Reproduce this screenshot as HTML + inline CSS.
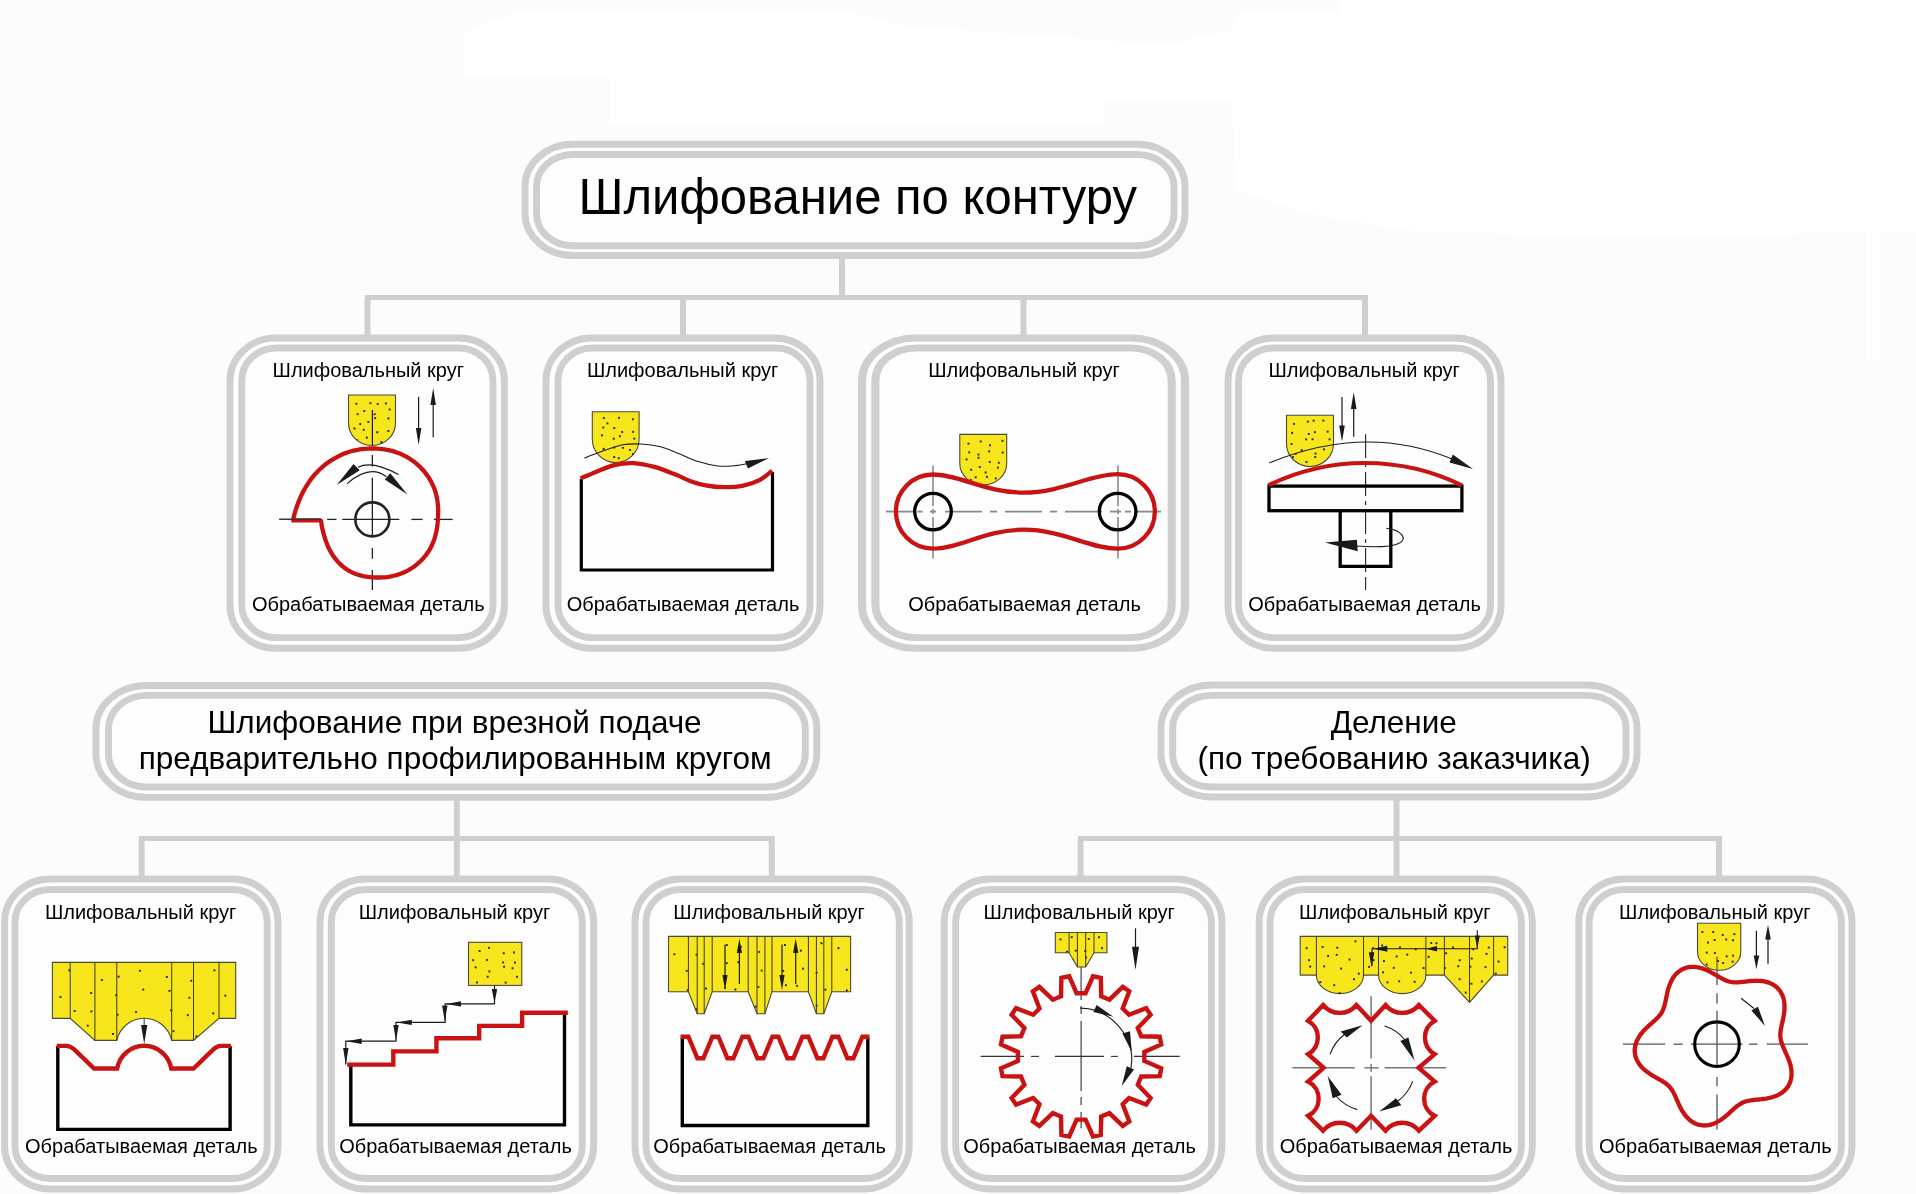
<!DOCTYPE html>
<html><head><meta charset="utf-8"><style>
html,body{margin:0;padding:0;background:#fcfcfc;width:1916px;height:1194px;overflow:hidden}
svg{display:block;will-change:transform}
text{font-family:"Liberation Sans",sans-serif;fill:#000}
</style></head><body>
<svg width="1916" height="1194" viewBox="0 0 1916 1194">
<rect width="1916" height="1194" fill="#fcfcfc"/>
<polygon points="465,32 520,10 840,10 905,26 1165,45 1232,30 1240,10 1340,12 1340,0 1916,0 1916,231 1880,231 1880,360 1866,360 1866,231 1700,237 1420,232 1300,212 1236,190 1232,100 1105,100 1105,125 610,125 610,78 465,78" fill="#ffffff"/>
<line x1="842" y1="255" x2="842" y2="298" stroke="#cfcfcf" stroke-width="6"/>
<line x1="365" y1="297.5" x2="1368" y2="297.5" stroke="#cfcfcf" stroke-width="5"/>
<line x1="367.5" y1="297.5" x2="367.5" y2="338" stroke="#cfcfcf" stroke-width="6"/>
<line x1="683" y1="297.5" x2="683" y2="338" stroke="#cfcfcf" stroke-width="6"/>
<line x1="1023.5" y1="297.5" x2="1023.5" y2="338" stroke="#cfcfcf" stroke-width="6"/>
<line x1="1365" y1="297.5" x2="1365" y2="338" stroke="#cfcfcf" stroke-width="6"/>
<line x1="456.8" y1="797" x2="456.8" y2="839" stroke="#cfcfcf" stroke-width="6"/>
<line x1="139" y1="838.5" x2="774.5" y2="838.5" stroke="#cfcfcf" stroke-width="5"/>
<line x1="141.6" y1="838.5" x2="141.6" y2="879" stroke="#cfcfcf" stroke-width="6"/>
<line x1="456.8" y1="838.5" x2="456.8" y2="879" stroke="#cfcfcf" stroke-width="6"/>
<line x1="771.7" y1="838.5" x2="771.7" y2="879" stroke="#cfcfcf" stroke-width="6"/>
<line x1="1396.5" y1="797" x2="1396.5" y2="839" stroke="#cfcfcf" stroke-width="6"/>
<line x1="1078" y1="838.5" x2="1722" y2="838.5" stroke="#cfcfcf" stroke-width="5"/>
<line x1="1080.5" y1="838.5" x2="1080.5" y2="879" stroke="#cfcfcf" stroke-width="6"/>
<line x1="1396.5" y1="838.5" x2="1396.5" y2="879" stroke="#cfcfcf" stroke-width="6"/>
<line x1="1719" y1="838.5" x2="1719" y2="879" stroke="#cfcfcf" stroke-width="6"/>
<rect x="525" y="144.3" width="660.0" height="111.2" rx="48" ry="42.3" fill="#fdfdfd" stroke="#cfcfcf" stroke-width="6.9"/>
<rect x="536.5" y="154.5" width="637.5" height="91.3" rx="36.5" ry="32.10000000000001" fill="none" stroke="#cfcfcf" stroke-width="6.9"/>
<text x="578.6" y="214.4" font-size="50.6" textLength="558.3" lengthAdjust="spacingAndGlyphs">Шлифование по контуру</text>
<rect x="96" y="685.5" width="720.8" height="111.9" rx="50.8" ry="43" fill="#fdfdfd" stroke="#cfcfcf" stroke-width="6.9"/>
<rect x="108.5" y="695.4" width="696.8" height="91.6" rx="38.3" ry="33.10000000000002" fill="none" stroke="#cfcfcf" stroke-width="6.9"/>
<text x="207.48" y="732.7" font-size="31.5" text-anchor="start">Шлифование при врезной подаче</text>
<text x="138.795" y="768.9" font-size="31.5" text-anchor="start">предварительно профилированным кругом</text>
<rect x="1161" y="685" width="476.0" height="112.0" rx="50.8" ry="43" fill="#fdfdfd" stroke="#cfcfcf" stroke-width="6.9"/>
<rect x="1172.7" y="695.4" width="453.3" height="91.6" rx="39.09999999999995" ry="32.60000000000002" fill="none" stroke="#cfcfcf" stroke-width="6.9"/>
<text x="1330.6425" y="732.7" font-size="31.5" text-anchor="start">Деление</text>
<text x="1197.4099999999999" y="768.9" font-size="31.5" text-anchor="start">(по требованию заказчика)</text>
<rect x="230" y="338" width="274.4" height="310.3" rx="45.7" ry="42.8" fill="#fdfdfd" stroke="#cfcfcf" stroke-width="6.9"/>
<rect x="241.7" y="348" width="251.3" height="289.6" rx="34.000000000000014" ry="32.8" fill="none" stroke="#cfcfcf" stroke-width="6.9"/>
<text x="272.54999999999995" y="376.8" font-size="20" text-anchor="start">Шлифовальный круг</text>
<text x="251.95000000000002" y="611" font-size="20" text-anchor="start">Обрабатываемая деталь</text>
<rect x="546" y="338" width="274.0" height="310.3" rx="45.7" ry="42.8" fill="#fdfdfd" stroke="#cfcfcf" stroke-width="6.9"/>
<rect x="558" y="348" width="252.0" height="289.6" rx="33.7" ry="32.8" fill="none" stroke="#cfcfcf" stroke-width="6.9"/>
<text x="586.95" y="376.8" font-size="20" text-anchor="start">Шлифовальный круг</text>
<text x="566.65" y="611" font-size="20" text-anchor="start">Обрабатываемая деталь</text>
<g transform="translate(862.1,0) scale(1.1767492711370262,1) translate(-862.1,0)">
<rect x="862.1" y="338" width="274.4" height="310.3" rx="45.7" ry="42.8" fill="#fdfdfd" stroke="#cfcfcf" stroke-width="6.9"/>
<rect x="873.4023227005265" y="348" width="251.8" height="289.6" rx="34.39767729947353" ry="32.8" fill="none" stroke="#cfcfcf" stroke-width="6.9"/>
</g>
<text x="928.25" y="376.8" font-size="20" text-anchor="start">Шлифовальный круг</text>
<text x="908.15" y="611" font-size="20" text-anchor="start">Обрабатываемая деталь</text>
<rect x="1228" y="338" width="273.0" height="310.3" rx="45.7" ry="42.8" fill="#fdfdfd" stroke="#cfcfcf" stroke-width="6.9"/>
<rect x="1238.5" y="348" width="252.0" height="289.6" rx="35.2" ry="32.8" fill="none" stroke="#cfcfcf" stroke-width="6.9"/>
<text x="1268.45" y="376.8" font-size="20" text-anchor="start">Шлифовальный круг</text>
<text x="1248.1499999999999" y="611" font-size="20" text-anchor="start">Обрабатываемая деталь</text>
<rect x="4.6" y="879" width="273.4" height="310.0" rx="45.53345481049563" ry="42.8" fill="#fdfdfd" stroke="#cfcfcf" stroke-width="6.9"/>
<rect x="15" y="889.5" width="252.2" height="289.0" rx="35.13345481049563" ry="32.3" fill="none" stroke="#cfcfcf" stroke-width="6.9"/>
<text x="44.94999999999998" y="918.9" font-size="20" text-anchor="start">Шлифовальный круг</text>
<text x="25.050000000000004" y="1153.2" font-size="20" text-anchor="start">Обрабатываемая деталь</text>
<rect x="320" y="879" width="273.6" height="310.0" rx="45.56676384839651" ry="42.8" fill="#fdfdfd" stroke="#cfcfcf" stroke-width="6.9"/>
<rect x="331.3" y="889.5" width="251.0" height="289.0" rx="34.2667638483965" ry="32.3" fill="none" stroke="#cfcfcf" stroke-width="6.9"/>
<text x="358.75" y="918.9" font-size="20" text-anchor="start">Шлифовальный круг</text>
<text x="339.15000000000003" y="1153.2" font-size="20" text-anchor="start">Обрабатываемая деталь</text>
<rect x="635" y="879" width="274.2" height="310.0" rx="45.66669096209914" ry="42.8" fill="#fdfdfd" stroke="#cfcfcf" stroke-width="6.9"/>
<rect x="646" y="889.5" width="253.3" height="289.0" rx="34.66669096209914" ry="32.3" fill="none" stroke="#cfcfcf" stroke-width="6.9"/>
<text x="673.35" y="918.9" font-size="20" text-anchor="start">Шлифовальный круг</text>
<text x="653.25" y="1153.2" font-size="20" text-anchor="start">Обрабатываемая деталь</text>
<rect x="944.2" y="879" width="277.7" height="310.0" rx="46.24959912536445" ry="42.8" fill="#fdfdfd" stroke="#cfcfcf" stroke-width="6.9"/>
<rect x="955.7" y="889.5" width="255.7" height="289.0" rx="34.74959912536445" ry="32.3" fill="none" stroke="#cfcfcf" stroke-width="6.9"/>
<text x="983.45" y="918.9" font-size="20" text-anchor="start">Шлифовальный круг</text>
<text x="963.2499999999999" y="1153.2" font-size="20" text-anchor="start">Обрабатываемая деталь</text>
<rect x="1259.2" y="879" width="273.1" height="310.0" rx="45.4834912536443" ry="42.8" fill="#fdfdfd" stroke="#cfcfcf" stroke-width="6.9"/>
<rect x="1270" y="889.5" width="251.4" height="289.0" rx="34.68349125364435" ry="32.3" fill="none" stroke="#cfcfcf" stroke-width="6.9"/>
<text x="1299.05" y="918.9" font-size="20" text-anchor="start">Шлифовальный круг</text>
<text x="1279.6499999999999" y="1153.2" font-size="20" text-anchor="start">Обрабатываемая деталь</text>
<rect x="1578.8" y="879" width="273.2" height="310.0" rx="45.50014577259477" ry="42.8" fill="#fdfdfd" stroke="#cfcfcf" stroke-width="6.9"/>
<rect x="1589.2" y="889.5" width="252.2" height="289.0" rx="35.10014577259468" ry="32.3" fill="none" stroke="#cfcfcf" stroke-width="6.9"/>
<text x="1619.05" y="918.9" font-size="20" text-anchor="start">Шлифовальный круг</text>
<text x="1599.05" y="1153.2" font-size="20" text-anchor="start">Обрабатываемая деталь</text>
<clipPath id="w1"><path d="M348.5,395 H395.5 V423 A23.50,22.50 0 0 1 348.5,423 Z"/></clipPath>
<path d="M348.5,395 H395.5 V423 A23.50,22.50 0 0 1 348.5,423 Z" fill="#f8e61c" stroke="#4a4a3a" stroke-width="1.1"/>
<g clip-path="url(#w1)"><rect x="355.4" y="402.8" width="1.9" height="1.9" fill="#222"/><rect x="369.4" y="402.2" width="1.9" height="1.9" fill="#222"/><rect x="376.8" y="403.0" width="1.9" height="1.9" fill="#222"/><rect x="384.9" y="402.5" width="1.9" height="1.9" fill="#222"/><rect x="356.7" y="413.2" width="1.9" height="1.9" fill="#222"/><rect x="363.3" y="410.1" width="1.9" height="1.9" fill="#222"/><rect x="373.7" y="413.3" width="1.9" height="1.9" fill="#222"/><rect x="388.7" y="408.5" width="1.9" height="1.9" fill="#222"/><rect x="359.3" y="423.1" width="1.9" height="1.9" fill="#222"/><rect x="367.4" y="421.0" width="1.9" height="1.9" fill="#222"/><rect x="374.2" y="417.2" width="1.9" height="1.9" fill="#222"/><rect x="387.5" y="417.5" width="1.9" height="1.9" fill="#222"/><rect x="353.5" y="427.5" width="1.9" height="1.9" fill="#222"/><rect x="362.8" y="428.9" width="1.9" height="1.9" fill="#222"/><rect x="376.3" y="431.3" width="1.9" height="1.9" fill="#222"/><rect x="387.4" y="430.0" width="1.9" height="1.9" fill="#222"/><rect x="355.7" y="439.1" width="1.9" height="1.9" fill="#222"/><rect x="365.9" y="436.7" width="1.9" height="1.9" fill="#222"/><rect x="380.4" y="441.1" width="1.9" height="1.9" fill="#222"/><rect x="389.8" y="439.3" width="1.9" height="1.9" fill="#222"/></g>
<line x1="372.4" y1="410" x2="372.4" y2="445" stroke="#1a1a1a" stroke-width="1.2"/>
<line x1="418.6" y1="396.7" x2="418.6" y2="432" stroke="#1a1a1a" stroke-width="1.2"/>
<polygon points="418.6,445.0 415.9,428.0 421.4,428.0" fill="#1a1a1a"/>
<line x1="433.2" y1="401" x2="433.2" y2="437.2" stroke="#1a1a1a" stroke-width="1.2"/>
<polygon points="433.2,388.0 435.9,405.0 430.4,405.0" fill="#1a1a1a"/>
<line x1="279.4" y1="519.4" x2="321.5" y2="519.4" stroke="#222" stroke-width="1.3"/>
<line x1="327.1" y1="519.4" x2="336.5" y2="519.4" stroke="#222" stroke-width="1.3"/>
<line x1="342.2" y1="519.4" x2="399.4" y2="519.4" stroke="#222" stroke-width="1.3"/>
<line x1="411.3" y1="519.4" x2="422.6" y2="519.4" stroke="#222" stroke-width="1.3"/>
<line x1="433.9" y1="519.4" x2="452.7" y2="519.4" stroke="#222" stroke-width="1.3"/>
<line x1="372.35" y1="455.1" x2="372.35" y2="466.4" stroke="#222" stroke-width="1.3"/>
<line x1="372.35" y1="477.7" x2="372.35" y2="535.5" stroke="#222" stroke-width="1.3"/>
<line x1="372.35" y1="548" x2="372.35" y2="558.7" stroke="#222" stroke-width="1.3"/>
<line x1="372.35" y1="570" x2="372.35" y2="590" stroke="#222" stroke-width="1.3"/>
<circle cx="372.35" cy="519.4" r="17" fill="none" stroke="#222" stroke-width="2.6"/>
<path d="M293.2,519.4 L293.8,516.7 L294.5,514.0 L295.3,511.3 L296.1,508.7 L297.0,506.1 L297.9,503.6 L298.9,501.1 L299.9,498.6 L301.0,496.2 L302.1,493.8 L303.3,491.5 L304.5,489.2 L305.8,487.0 L307.2,484.8 L308.6,482.6 L310.1,480.5 L311.6,478.4 L313.2,476.4 L314.8,474.5 L316.6,472.6 L318.3,470.7 L320.1,469.0 L322.0,467.3 L323.9,465.6 L325.9,464.1 L328.0,462.6 L330.0,461.1 L332.1,459.8 L334.3,458.5 L336.5,457.3 L338.7,456.1 L341.0,455.0 L343.2,454.0 L345.6,453.1 L347.9,452.3 L350.3,451.5 L352.7,450.8 L355.1,450.3 L357.6,449.8 L360.0,449.4 L362.5,449.0 L364.9,448.8 L367.4,448.6 L369.9,448.5 L372.4,448.5 L374.8,448.5 L377.3,448.6 L379.8,448.8 L382.2,449.1 L384.7,449.4 L387.1,449.8 L389.6,450.3 L392.0,450.9 L394.4,451.6 L396.7,452.4 L399.1,453.3 L401.4,454.2 L403.6,455.3 L405.8,456.4 L408.0,457.7 L410.1,459.0 L412.2,460.4 L414.2,461.9 L416.1,463.4 L418.0,465.0 L419.8,466.7 L421.5,468.5 L423.2,470.3 L424.8,472.2 L426.3,474.1 L427.8,476.1 L429.1,478.2 L430.4,480.3 L431.5,482.4 L432.6,484.6 L433.6,486.8 L434.5,489.1 L435.3,491.4 L435.9,493.7 L436.5,496.0 L437.0,498.4 L437.4,500.7 L437.7,503.1 L437.9,505.5 L438.1,507.8 L438.2,510.2 L438.2,512.5 L438.1,514.8 L438.0,517.1 L437.9,519.4 L437.7,521.7 L437.5,524.0 L437.2,526.2 L436.9,528.5 L436.5,530.7 L436.0,532.9 L435.5,535.1 L434.9,537.3 L434.2,539.5 L433.4,541.6 L432.5,543.7 L431.6,545.8 L430.6,547.8 L429.5,549.8 L428.3,551.7 L427.0,553.5 L425.7,555.4 L424.2,557.1 L422.8,558.8 L421.2,560.4 L419.6,562.0 L418.0,563.4 L416.3,564.9 L414.5,566.2 L412.7,567.5 L410.8,568.7 L409.0,569.8 L407.0,570.8 L405.1,571.8 L403.1,572.7 L401.1,573.5 L399.1,574.2 L397.1,574.9 L395.0,575.5 L392.9,576.0 L390.9,576.4 L388.8,576.8 L386.7,577.1 L384.7,577.3 L382.6,577.4 L380.5,577.5 L378.5,577.5 L376.4,577.5 L374.4,577.4 L372.4,577.3 L370.3,577.1 L368.3,576.9 L366.3,576.6 L364.4,576.3 L362.4,575.9 L360.4,575.4 L358.5,574.9 L356.6,574.3 L354.7,573.6 L352.9,572.8 L351.1,571.9 L349.4,571.0 L347.7,570.0 L346.0,568.9 L344.4,567.8 L342.9,566.5 L341.4,565.3 L340.0,563.9 L338.6,562.6 L337.3,561.2 L336.1,559.7 L334.9,558.2 L333.7,556.7 L332.7,555.1 L331.7,553.5 L330.7,551.9 L329.8,550.3 L329.0,548.6 L328.2,547.0 L327.5,545.3 L326.8,543.6 L326.2,541.9 L325.6,540.2 L325.0,538.5 L324.5,536.8 L324.0,535.1 L323.5,533.4 L323.1,531.7 L322.7,530.0 L322.3,528.2 L321.9,526.5 L321.6,524.7 L321.3,523.0 L321.0,521.2 L320.8,519.4 L320.8,520.4 L291.3,520.4" fill="none" stroke="#c91313" stroke-width="4.3" stroke-linejoin="miter"/>
<line x1="279.4" y1="519.4" x2="321.5" y2="519.4" stroke="#333" stroke-width="1.2"/>
<path d="M358,467.2 Q372.1,460 398.5,474.5" fill="none" stroke="#1a1a1a" stroke-width="1.2"/>
<polygon points="336.7,484.9 353.5,464.1 359.7,470.3" fill="#1a1a1a"/>
<path d="M347.1,483.6 Q370,464 386.3,476.7" fill="none" stroke="#1a1a1a" stroke-width="1.2"/>
<polygon points="407.4,494.5 390.3,473.2 384.8,479.6" fill="#1a1a1a"/>
<clipPath id="w2"><path d="M592.3,411.8 H639.1 V439 A23.40,23.60 0 0 1 592.3,439 Z"/></clipPath>
<path d="M592.3,411.8 H639.1 V439 A23.40,23.60 0 0 1 592.3,439 Z" fill="#f8e61c" stroke="#4a4a3a" stroke-width="1.1"/>
<g clip-path="url(#w2)"><rect x="602.9" y="417.0" width="1.9" height="1.9" fill="#222"/><rect x="606.5" y="422.4" width="1.9" height="1.9" fill="#222"/><rect x="618.1" y="416.9" width="1.9" height="1.9" fill="#222"/><rect x="632.0" y="418.3" width="1.9" height="1.9" fill="#222"/><rect x="602.4" y="426.6" width="1.9" height="1.9" fill="#222"/><rect x="613.3" y="427.1" width="1.9" height="1.9" fill="#222"/><rect x="621.2" y="431.0" width="1.9" height="1.9" fill="#222"/><rect x="632.2" y="430.9" width="1.9" height="1.9" fill="#222"/><rect x="601.0" y="434.4" width="1.9" height="1.9" fill="#222"/><rect x="612.8" y="437.8" width="1.9" height="1.9" fill="#222"/><rect x="619.0" y="435.3" width="1.9" height="1.9" fill="#222"/><rect x="633.4" y="437.7" width="1.9" height="1.9" fill="#222"/><rect x="602.7" y="447.9" width="1.9" height="1.9" fill="#222"/><rect x="613.3" y="446.6" width="1.9" height="1.9" fill="#222"/><rect x="621.9" y="446.9" width="1.9" height="1.9" fill="#222"/><rect x="629.1" y="449.0" width="1.9" height="1.9" fill="#222"/><rect x="598.2" y="456.9" width="1.9" height="1.9" fill="#222"/><rect x="613.3" y="456.1" width="1.9" height="1.9" fill="#222"/><rect x="617.8" y="457.2" width="1.9" height="1.9" fill="#222"/><rect x="632.1" y="453.1" width="1.9" height="1.9" fill="#222"/></g>
<path d="M581.3,479 V570 H772.5 V472" fill="none" stroke="#000" stroke-width="3.2"/>
<path d="M580.6,478.4 C583.4,477.2 591.3,473.7 597.1,471.4 C602.9,469.1 609.2,466.2 615.2,464.8 C621.2,463.4 626.8,462.8 633.3,463.1 C639.8,463.5 647.3,465.0 654.4,466.9 C661.5,468.8 669.6,472.2 675.6,474.6 C681.6,477.0 685.6,479.4 690.6,481.2 C695.6,483.0 700.2,484.4 705.7,485.4 C711.2,486.4 717.5,487.2 723.8,487.2 C730.1,487.2 737.4,486.8 743.4,485.6 C749.4,484.4 755.2,482.4 760.0,479.9 C764.8,477.4 770.1,472.2 772.1,470.6" fill="none" stroke="#c91313" stroke-width="4.3"/>
<path d="M584.3,458.0 C586.9,457.0 593.8,454.2 600.2,452.0 C606.6,449.8 616.0,446.1 622.8,444.8 C629.6,443.5 634.6,443.7 640.9,444.0 C647.2,444.3 654.2,445.1 660.5,446.7 C666.8,448.3 672.3,451.0 678.6,453.5 C684.9,456.0 691.7,459.5 698.2,461.6 C704.7,463.7 711.5,465.3 717.8,466.0 C724.1,466.7 730.9,466.0 735.9,465.6 C740.9,465.2 746.0,463.9 748.0,463.6" fill="none" stroke="#1a1a1a" stroke-width="1.1"/>
<polygon points="769,458 744.9,461.1 747.9,468.6" fill="#1a1a1a"/>
<clipPath id="w3"><path d="M959.8,434.4 H1006.7 V463.5 A23.45,21.30 0 0 1 959.8,463.5 Z"/></clipPath>
<path d="M959.8,434.4 H1006.7 V463.5 A23.45,21.30 0 0 1 959.8,463.5 Z" fill="#f8e61c" stroke="#4a4a3a" stroke-width="1.1"/>
<g clip-path="url(#w3)"><rect x="967.6" y="442.7" width="1.9" height="1.9" fill="#222"/><rect x="979.8" y="440.5" width="1.9" height="1.9" fill="#222"/><rect x="989.1" y="444.3" width="1.9" height="1.9" fill="#222"/><rect x="1001.5" y="439.9" width="1.9" height="1.9" fill="#222"/><rect x="968.2" y="451.4" width="1.9" height="1.9" fill="#222"/><rect x="977.5" y="453.6" width="1.9" height="1.9" fill="#222"/><rect x="988.2" y="450.4" width="1.9" height="1.9" fill="#222"/><rect x="1001.7" y="451.6" width="1.9" height="1.9" fill="#222"/><rect x="965.6" y="458.4" width="1.9" height="1.9" fill="#222"/><rect x="977.5" y="456.8" width="1.9" height="1.9" fill="#222"/><rect x="988.8" y="461.1" width="1.9" height="1.9" fill="#222"/><rect x="997.9" y="461.8" width="1.9" height="1.9" fill="#222"/><rect x="970.2" y="468.8" width="1.9" height="1.9" fill="#222"/><rect x="978.8" y="466.1" width="1.9" height="1.9" fill="#222"/><rect x="984.7" y="471.5" width="1.9" height="1.9" fill="#222"/><rect x="996.9" y="466.7" width="1.9" height="1.9" fill="#222"/><rect x="969.9" y="478.9" width="1.9" height="1.9" fill="#222"/><rect x="974.7" y="476.3" width="1.9" height="1.9" fill="#222"/><rect x="986.1" y="475.9" width="1.9" height="1.9" fill="#222"/><rect x="994.8" y="477.5" width="1.9" height="1.9" fill="#222"/></g>
<line x1="886" y1="511.6" x2="913" y2="511.6" stroke="#8a8a8a" stroke-width="1.8"/>
<line x1="917.5" y1="511.6" x2="922.5" y2="511.6" stroke="#8a8a8a" stroke-width="1.8"/>
<line x1="930" y1="511.6" x2="936" y2="511.6" stroke="#8a8a8a" stroke-width="1.8"/>
<line x1="945" y1="511.6" x2="982" y2="511.6" stroke="#8a8a8a" stroke-width="1.8"/>
<line x1="990" y1="511.6" x2="997" y2="511.6" stroke="#8a8a8a" stroke-width="1.8"/>
<line x1="1005" y1="511.6" x2="1042" y2="511.6" stroke="#8a8a8a" stroke-width="1.8"/>
<line x1="1050" y1="511.6" x2="1057" y2="511.6" stroke="#8a8a8a" stroke-width="1.8"/>
<line x1="1065" y1="511.6" x2="1102" y2="511.6" stroke="#8a8a8a" stroke-width="1.8"/>
<line x1="1110" y1="511.6" x2="1115" y2="511.6" stroke="#8a8a8a" stroke-width="1.8"/>
<line x1="1115" y1="511.6" x2="1121" y2="511.6" stroke="#8a8a8a" stroke-width="1.8"/>
<line x1="1125" y1="511.6" x2="1131" y2="511.6" stroke="#8a8a8a" stroke-width="1.8"/>
<line x1="1137" y1="511.6" x2="1161" y2="511.6" stroke="#8a8a8a" stroke-width="1.8"/>
<line x1="933" y1="465.4" x2="933" y2="506" stroke="#8a8a8a" stroke-width="1.6"/>
<line x1="933" y1="509" x2="933" y2="514" stroke="#8a8a8a" stroke-width="1.6"/>
<line x1="933" y1="517" x2="933" y2="558.5" stroke="#8a8a8a" stroke-width="1.6"/>
<line x1="1118" y1="465.4" x2="1118" y2="506" stroke="#8a8a8a" stroke-width="1.6"/>
<line x1="1118" y1="509" x2="1118" y2="514" stroke="#8a8a8a" stroke-width="1.6"/>
<line x1="1118" y1="517" x2="1118" y2="558.5" stroke="#8a8a8a" stroke-width="1.6"/>
<circle cx="933" cy="511.6" r="18.3" fill="none" stroke="#000" stroke-width="3.3"/>
<circle cx="1117.6" cy="511.6" r="18.3" fill="none" stroke="#000" stroke-width="3.3"/>
<path d="M933,474.5 C960,474.5 985,492.6 1023.8,492.6 C1062,492.6 1090,474.2 1117.6,474.2 A37.2,37.2 0 0 1 1117.6,548.7 C1090,548.7 1062,529.7 1023.8,529.7 C985,529.7 960,548.7 933,548.7 A37.1,37.1 0 0 1 933,474.5 Z" fill="none" stroke="#c91313" stroke-width="4.3"/>
<clipPath id="w4"><path d="M1286.5,415.2 H1333.5 V443.5 A23.50,23.00 0 0 1 1286.5,443.5 Z"/></clipPath>
<path d="M1286.5,415.2 H1333.5 V443.5 A23.50,23.00 0 0 1 1286.5,443.5 Z" fill="#f8e61c" stroke="#4a4a3a" stroke-width="1.1"/>
<g clip-path="url(#w4)"><rect x="1293.1" y="423.0" width="1.9" height="1.9" fill="#222"/><rect x="1306.9" y="420.7" width="1.9" height="1.9" fill="#222"/><rect x="1312.7" y="419.7" width="1.9" height="1.9" fill="#222"/><rect x="1322.4" y="419.6" width="1.9" height="1.9" fill="#222"/><rect x="1291.2" y="431.9" width="1.9" height="1.9" fill="#222"/><rect x="1307.8" y="433.0" width="1.9" height="1.9" fill="#222"/><rect x="1313.9" y="431.2" width="1.9" height="1.9" fill="#222"/><rect x="1326.7" y="430.7" width="1.9" height="1.9" fill="#222"/><rect x="1290.6" y="443.0" width="1.9" height="1.9" fill="#222"/><rect x="1305.1" y="438.4" width="1.9" height="1.9" fill="#222"/><rect x="1311.6" y="438.3" width="1.9" height="1.9" fill="#222"/><rect x="1328.6" y="438.4" width="1.9" height="1.9" fill="#222"/><rect x="1294.7" y="452.9" width="1.9" height="1.9" fill="#222"/><rect x="1300.8" y="449.2" width="1.9" height="1.9" fill="#222"/><rect x="1314.6" y="452.6" width="1.9" height="1.9" fill="#222"/><rect x="1323.0" y="448.4" width="1.9" height="1.9" fill="#222"/><rect x="1291.9" y="456.1" width="1.9" height="1.9" fill="#222"/><rect x="1305.5" y="461.0" width="1.9" height="1.9" fill="#222"/><rect x="1314.3" y="456.0" width="1.9" height="1.9" fill="#222"/><rect x="1326.8" y="460.5" width="1.9" height="1.9" fill="#222"/></g>
<line x1="1365.6" y1="434.3" x2="1365.6" y2="458" stroke="#222" stroke-width="1.1"/>
<line x1="1365.6" y1="463" x2="1365.6" y2="467" stroke="#222" stroke-width="1.1"/>
<line x1="1365.6" y1="472" x2="1365.6" y2="496" stroke="#222" stroke-width="1.1"/>
<line x1="1365.6" y1="501" x2="1365.6" y2="505" stroke="#222" stroke-width="1.1"/>
<line x1="1365.6" y1="510" x2="1365.6" y2="534" stroke="#222" stroke-width="1.1"/>
<line x1="1365.6" y1="539" x2="1365.6" y2="543" stroke="#222" stroke-width="1.1"/>
<line x1="1365.6" y1="548" x2="1365.6" y2="572" stroke="#222" stroke-width="1.1"/>
<line x1="1365.6" y1="577" x2="1365.6" y2="590" stroke="#222" stroke-width="1.1"/>
<rect x="1269" y="486.1" width="192.9" height="24.6" fill="none" stroke="#000" stroke-width="3.3"/>
<path d="M1340.2,510.7 V566.4 H1390.8 V510.7" fill="none" stroke="#000" stroke-width="3.3"/>
<path d="M1268.5,485.3 A220.8,220.8 0 0 1 1461.9,485.3" fill="none" stroke="#c91313" stroke-width="4.2"/>
<path d="M1269,463 Q1365.6,423 1452,459" fill="none" stroke="#1a1a1a" stroke-width="1.1"/>
<polygon points="1473,469 1449.5,462.6 1452.8,454.6" fill="#1a1a1a"/>
<line x1="1342" y1="397" x2="1342" y2="430" stroke="#1a1a1a" stroke-width="1.2"/>
<polygon points="1342.0,441.5 1339.2,425.6 1344.8,425.6" fill="#1a1a1a"/>
<line x1="1353.7" y1="404" x2="1353.7" y2="436.7" stroke="#1a1a1a" stroke-width="1.2"/>
<polygon points="1353.7,392.2 1356.5,408.9 1350.9,408.9" fill="#1a1a1a"/>
<path d="M1386.3,528.2 C1402,530 1410,540 1396,544.5 C1385,548 1370,547 1356,546" fill="none" stroke="#1a1a1a" stroke-width="1.1"/>
<polygon points="1325,542.6 1356.9,539.8 1357.7,551.3" fill="#1a1a1a"/>
<clipPath id="wb1"><path d="M52.4,962.4 H235.7 V1018.4 H219 L193.5,1040.4 H171.7 A28.1,28.1 0 0 0 116.8,1040.4 H94.9 L70.2,1018.4 H52.4 Z"/></clipPath>
<path d="M52.4,962.4 H235.7 V1018.4 H219 L193.5,1040.4 H171.7 A28.1,28.1 0 0 0 116.8,1040.4 H94.9 L70.2,1018.4 H52.4 Z" fill="#f8e61c" stroke="#4a4a3a" stroke-width="1.1"/>
<g clip-path="url(#wb1)"><rect x="68.3" y="969.4" width="1.9" height="1.9" fill="#222"/><rect x="100.9" y="979.1" width="1.9" height="1.9" fill="#222"/><rect x="117.7" y="975.7" width="1.9" height="1.9" fill="#222"/><rect x="138.9" y="969.8" width="1.9" height="1.9" fill="#222"/><rect x="165.9" y="976.1" width="1.9" height="1.9" fill="#222"/><rect x="190.3" y="979.8" width="1.9" height="1.9" fill="#222"/><rect x="213.4" y="969.4" width="1.9" height="1.9" fill="#222"/><rect x="59.5" y="996.1" width="1.9" height="1.9" fill="#222"/><rect x="90.2" y="992.1" width="1.9" height="1.9" fill="#222"/><rect x="115.2" y="994.3" width="1.9" height="1.9" fill="#222"/><rect x="142.3" y="988.6" width="1.9" height="1.9" fill="#222"/><rect x="168.5" y="989.9" width="1.9" height="1.9" fill="#222"/><rect x="188.4" y="996.8" width="1.9" height="1.9" fill="#222"/><rect x="224.4" y="994.7" width="1.9" height="1.9" fill="#222"/><rect x="73.7" y="1010.1" width="1.9" height="1.9" fill="#222"/><rect x="90.4" y="1010.5" width="1.9" height="1.9" fill="#222"/><rect x="116.6" y="1013.7" width="1.9" height="1.9" fill="#222"/><rect x="135.1" y="1011.0" width="1.9" height="1.9" fill="#222"/><rect x="170.3" y="1009.4" width="1.9" height="1.9" fill="#222"/><rect x="186.8" y="1014.2" width="1.9" height="1.9" fill="#222"/><rect x="212.3" y="1012.4" width="1.9" height="1.9" fill="#222"/><rect x="60.6" y="1024.3" width="1.9" height="1.9" fill="#222"/><rect x="86.8" y="1024.7" width="1.9" height="1.9" fill="#222"/><rect x="112.0" y="1033.0" width="1.9" height="1.9" fill="#222"/><rect x="148.1" y="1028.7" width="1.9" height="1.9" fill="#222"/><rect x="172.5" y="1030.2" width="1.9" height="1.9" fill="#222"/><rect x="195.4" y="1035.5" width="1.9" height="1.9" fill="#222"/><rect x="217.7" y="1035.4" width="1.9" height="1.9" fill="#222"/></g>
<line x1="70.2" y1="962.4" x2="70.2" y2="1018.4" stroke="#3a3a2a" stroke-width="1"/>
<line x1="94.9" y1="962.4" x2="94.9" y2="1040.4" stroke="#3a3a2a" stroke-width="1"/>
<line x1="116.8" y1="962.4" x2="116.8" y2="1040.4" stroke="#3a3a2a" stroke-width="1"/>
<line x1="171.7" y1="962.4" x2="171.7" y2="1040.4" stroke="#3a3a2a" stroke-width="1"/>
<line x1="193.5" y1="962.4" x2="193.5" y2="1040.4" stroke="#3a3a2a" stroke-width="1"/>
<line x1="219" y1="962.4" x2="219" y2="1018.4" stroke="#3a3a2a" stroke-width="1"/>
<path d="M57.8,1046 V1129.4 H230.1 V1046" fill="none" stroke="#000" stroke-width="3.4"/>
<path d="M56.7,1045.9 H66 Q70,1045.9 74.2,1049.4 L94.1,1068.5 H117.2 A27.4,27.4 0 0 1 171.2,1068.5 H193.5 L213.4,1049.4 Q217,1045.9 221,1045.9 H230.9" fill="none" stroke="#c91313" stroke-width="4.4"/>
<line x1="144.2" y1="1018.4" x2="144.2" y2="1026" stroke="#555" stroke-width="1.2"/>
<polygon points="144.2,1043.9 141.1,1025.0 147.3,1025.0" fill="#1a1a1a"/>
<rect x="468.5" y="942.3" width="53.3" height="43.1" fill="#f8e61c" stroke="#4a4a3a" stroke-width="1.1"/>
<g><rect x="478.6" y="950.0" width="1.9" height="1.9" fill="#222"/><rect x="488.0" y="946.9" width="1.9" height="1.9" fill="#222"/><rect x="502.8" y="952.3" width="1.9" height="1.9" fill="#222"/><rect x="513.1" y="951.5" width="1.9" height="1.9" fill="#222"/><rect x="472.2" y="959.2" width="1.9" height="1.9" fill="#222"/><rect x="486.1" y="959.0" width="1.9" height="1.9" fill="#222"/><rect x="502.2" y="961.5" width="1.9" height="1.9" fill="#222"/><rect x="514.0" y="961.6" width="1.9" height="1.9" fill="#222"/><rect x="474.7" y="966.4" width="1.9" height="1.9" fill="#222"/><rect x="488.4" y="970.5" width="1.9" height="1.9" fill="#222"/><rect x="503.1" y="965.8" width="1.9" height="1.9" fill="#222"/><rect x="511.6" y="967.3" width="1.9" height="1.9" fill="#222"/><rect x="476.0" y="981.5" width="1.9" height="1.9" fill="#222"/><rect x="486.7" y="975.8" width="1.9" height="1.9" fill="#222"/><rect x="504.7" y="981.6" width="1.9" height="1.9" fill="#222"/><rect x="516.1" y="975.8" width="1.9" height="1.9" fill="#222"/></g>
<path d="M350.8,1066 V1124.9 H564.5 V1014" fill="none" stroke="#000" stroke-width="3.4"/>
<path d="M349.4,1064.6 H393.3 V1051.4 H436.4 V1038.2 H479.2 V1025.9 H522.1 V1012.7 H565.7" fill="none" stroke="#c91313" stroke-width="4.4" stroke-linecap="square"/>
<path d="M494.5,985.4 V1003.9 H445.2 V1022.4 H396 V1041.2 H345.8 V1064.6" fill="none" stroke="#1a1a1a" stroke-width="1.2"/>
<polygon points="494.5,1003.0 491.8,988.9 497.2,988.9" fill="#1a1a1a"/>
<polygon points="445.8,1003.9 461.0,1001.2 461.0,1006.6" fill="#1a1a1a"/>
<polygon points="444.8,1021.5 442.1,1005.6 447.5,1005.6" fill="#1a1a1a"/>
<polygon points="396.6,1022.4 411.8,1019.7 411.8,1025.1" fill="#1a1a1a"/>
<polygon points="396.0,1040.8 393.3,1025.0 398.7,1025.0" fill="#1a1a1a"/>
<polygon points="346.4,1041.2 361.7,1038.5 361.7,1043.9" fill="#1a1a1a"/>
<polygon points="345.8,1064.6 343.1,1047.9 348.5,1047.9" fill="#1a1a1a"/>
<clipPath id="wb3"><path d="M668.5,936.4 H850.6 V991.8 H831.8 L823.8,1013.8 H816.4 L808.4,991.8 H772 L764.9,1013.8 H757 L748.2,991.8 H712.2 L704.2,1013.8 H697.2 L688.4,991.8 H668.5 Z"/></clipPath>
<path d="M668.5,936.4 H850.6 V991.8 H831.8 L823.8,1013.8 H816.4 L808.4,991.8 H772 L764.9,1013.8 H757 L748.2,991.8 H712.2 L704.2,1013.8 H697.2 L688.4,991.8 H668.5 Z" fill="#f8e61c" stroke="#4a4a3a" stroke-width="1.1"/>
<g clip-path="url(#wb3)"><rect x="673.4" y="953.3" width="1.9" height="1.9" fill="#222"/><rect x="695.6" y="953.7" width="1.9" height="1.9" fill="#222"/><rect x="725.9" y="944.1" width="1.9" height="1.9" fill="#222"/><rect x="739.8" y="945.9" width="1.9" height="1.9" fill="#222"/><rect x="758.2" y="951.0" width="1.9" height="1.9" fill="#222"/><rect x="784.0" y="944.1" width="1.9" height="1.9" fill="#222"/><rect x="799.9" y="949.7" width="1.9" height="1.9" fill="#222"/><rect x="820.5" y="942.3" width="1.9" height="1.9" fill="#222"/><rect x="837.5" y="947.2" width="1.9" height="1.9" fill="#222"/><rect x="685.8" y="969.9" width="1.9" height="1.9" fill="#222"/><rect x="702.3" y="962.9" width="1.9" height="1.9" fill="#222"/><rect x="725.8" y="962.2" width="1.9" height="1.9" fill="#222"/><rect x="737.4" y="961.3" width="1.9" height="1.9" fill="#222"/><rect x="760.7" y="969.6" width="1.9" height="1.9" fill="#222"/><rect x="782.2" y="970.0" width="1.9" height="1.9" fill="#222"/><rect x="802.1" y="967.7" width="1.9" height="1.9" fill="#222"/><rect x="815.7" y="971.7" width="1.9" height="1.9" fill="#222"/><rect x="845.9" y="968.8" width="1.9" height="1.9" fill="#222"/><rect x="686.9" y="989.2" width="1.9" height="1.9" fill="#222"/><rect x="705.1" y="987.6" width="1.9" height="1.9" fill="#222"/><rect x="724.1" y="986.7" width="1.9" height="1.9" fill="#222"/><rect x="734.4" y="988.6" width="1.9" height="1.9" fill="#222"/><rect x="757.4" y="986.1" width="1.9" height="1.9" fill="#222"/><rect x="784.9" y="984.2" width="1.9" height="1.9" fill="#222"/><rect x="796.1" y="984.9" width="1.9" height="1.9" fill="#222"/><rect x="824.4" y="988.7" width="1.9" height="1.9" fill="#222"/><rect x="845.9" y="989.5" width="1.9" height="1.9" fill="#222"/><rect x="684.2" y="1002.6" width="1.9" height="1.9" fill="#222"/><rect x="695.4" y="1008.4" width="1.9" height="1.9" fill="#222"/><rect x="713.3" y="1008.5" width="1.9" height="1.9" fill="#222"/><rect x="741.5" y="999.3" width="1.9" height="1.9" fill="#222"/><rect x="754.9" y="1005.6" width="1.9" height="1.9" fill="#222"/><rect x="773.4" y="1001.9" width="1.9" height="1.9" fill="#222"/><rect x="793.8" y="998.0" width="1.9" height="1.9" fill="#222"/><rect x="815.7" y="1004.7" width="1.9" height="1.9" fill="#222"/><rect x="832.5" y="1007.3" width="1.9" height="1.9" fill="#222"/></g>
<line x1="688.4" y1="936.4" x2="688.4" y2="991.8" stroke="#3a3a2a" stroke-width="1"/>
<line x1="697.2" y1="936.4" x2="697.2" y2="1013.8" stroke="#3a3a2a" stroke-width="1"/>
<line x1="704.2" y1="936.4" x2="704.2" y2="1013.8" stroke="#3a3a2a" stroke-width="1"/>
<line x1="712.2" y1="936.4" x2="712.2" y2="991.8" stroke="#3a3a2a" stroke-width="1"/>
<line x1="748.2" y1="936.4" x2="748.2" y2="991.8" stroke="#3a3a2a" stroke-width="1"/>
<line x1="757" y1="936.4" x2="757" y2="1013.8" stroke="#3a3a2a" stroke-width="1"/>
<line x1="764.9" y1="936.4" x2="764.9" y2="1013.8" stroke="#3a3a2a" stroke-width="1"/>
<line x1="772" y1="936.4" x2="772" y2="991.8" stroke="#3a3a2a" stroke-width="1"/>
<line x1="808.4" y1="936.4" x2="808.4" y2="991.8" stroke="#3a3a2a" stroke-width="1"/>
<line x1="816.4" y1="936.4" x2="816.4" y2="1013.8" stroke="#3a3a2a" stroke-width="1"/>
<line x1="823.8" y1="936.4" x2="823.8" y2="1013.8" stroke="#3a3a2a" stroke-width="1"/>
<line x1="831.8" y1="936.4" x2="831.8" y2="991.8" stroke="#3a3a2a" stroke-width="1"/>
<line x1="725" y1="944.5" x2="725" y2="978" stroke="#1a1a1a" stroke-width="1.2"/>
<polygon points="725.0,990.1 722.4,975.1 727.6,975.1" fill="#1a1a1a"/>
<line x1="782" y1="944.5" x2="782" y2="978" stroke="#1a1a1a" stroke-width="1.2"/>
<polygon points="782.0,990.1 779.4,975.1 784.6,975.1" fill="#1a1a1a"/>
<line x1="739.4" y1="950" x2="739.4" y2="984" stroke="#1a1a1a" stroke-width="1.2"/>
<polygon points="739.4,938.5 742.0,953.1 736.8,953.1" fill="#1a1a1a"/>
<line x1="795.7" y1="950" x2="795.7" y2="984" stroke="#1a1a1a" stroke-width="1.2"/>
<polygon points="795.7,938.5 798.3,953.1 793.1,953.1" fill="#1a1a1a"/>
<path d="M682.3,1038 V1125.5 H867.8 V1038" fill="none" stroke="#000" stroke-width="3.4"/>
<path d="M680.5,1036.7 L688.4,1036.7 L697.4,1058.3 L703.4,1058.3 L712.4,1036.7 L718.4,1036.7 L727.4,1058.3 L733.4,1058.3 L742.4,1036.7 L748.4,1036.7 L757.4,1058.3 L763.4,1058.3 L772.4,1036.7 L778.4,1036.7 L787.4,1058.3 L793.4,1058.3 L802.4,1036.7 L808.4,1036.7 L817.4,1058.3 L823.4,1058.3 L832.4,1036.7 L838.4,1036.7 L847.4,1058.3 L853.4,1058.3 L862.4,1036.7 L869.5,1036.7" fill="none" stroke="#c91313" stroke-width="4.4"/>
<line x1="980.7" y1="1056.4" x2="1024" y2="1056.4" stroke="#333" stroke-width="1.1"/>
<line x1="1031" y1="1056.4" x2="1039" y2="1056.4" stroke="#333" stroke-width="1.1"/>
<line x1="1055" y1="1056.4" x2="1104" y2="1056.4" stroke="#333" stroke-width="1.1"/>
<line x1="1111" y1="1056.4" x2="1118" y2="1056.4" stroke="#333" stroke-width="1.1"/>
<line x1="1134" y1="1056.4" x2="1179.7" y2="1056.4" stroke="#333" stroke-width="1.1"/>
<line x1="1081.1" y1="967" x2="1081.1" y2="1000" stroke="#333" stroke-width="1.1"/>
<line x1="1081.1" y1="1006" x2="1081.1" y2="1014" stroke="#333" stroke-width="1.1"/>
<line x1="1081.1" y1="1021" x2="1081.1" y2="1091" stroke="#333" stroke-width="1.1"/>
<line x1="1081.1" y1="1097" x2="1081.1" y2="1105" stroke="#333" stroke-width="1.1"/>
<line x1="1081.1" y1="1112" x2="1081.1" y2="1128.3" stroke="#333" stroke-width="1.1"/>
<path d="M1085.6,993.2 L1093.0,976.3 L1100.8,977.8 L1101.2,996.3 L1109.4,999.7 L1122.8,986.9 L1129.3,991.3 L1122.7,1008.5 L1129.0,1014.8 L1146.2,1008.2 L1150.6,1014.7 L1137.8,1028.1 L1141.2,1036.3 L1159.7,1036.7 L1161.2,1044.5 L1144.3,1051.9 L1144.3,1060.9 L1161.2,1068.3 L1159.7,1076.1 L1141.2,1076.5 L1137.8,1084.7 L1150.6,1098.1 L1146.2,1104.6 L1129.0,1098.0 L1122.7,1104.3 L1129.3,1121.5 L1122.8,1125.9 L1109.4,1113.1 L1101.2,1116.5 L1100.8,1135.0 L1093.0,1136.5 L1085.6,1119.6 L1076.6,1119.6 L1069.2,1136.5 L1061.4,1135.0 L1061.0,1116.5 L1052.8,1113.1 L1039.4,1125.9 L1032.9,1121.5 L1039.5,1104.3 L1033.2,1098.0 L1016.0,1104.6 L1011.6,1098.1 L1024.4,1084.7 L1021.0,1076.5 L1002.5,1076.1 L1001.0,1068.3 L1017.9,1060.9 L1017.9,1051.9 L1001.0,1044.5 L1002.5,1036.7 L1021.0,1036.3 L1024.4,1028.1 L1011.6,1014.7 L1016.0,1008.2 L1033.2,1014.8 L1039.5,1008.5 L1032.9,991.3 L1039.4,986.9 L1052.8,999.7 L1061.0,996.3 L1061.4,977.8 L1069.2,976.3 L1076.6,993.2Z" fill="none" stroke="#c91313" stroke-width="4.4" stroke-linejoin="miter"/>
<clipPath id="wb4"><path d="M1055.3,932.5 H1106.9 V952.8 H1094 L1085.7,967 H1077.4 L1069.1,952.8 H1055.3 Z"/></clipPath>
<path d="M1055.3,932.5 H1106.9 V952.8 H1094 L1085.7,967 H1077.4 L1069.1,952.8 H1055.3 Z" fill="#f8e61c" stroke="#4a4a3a" stroke-width="1.1"/>
<g clip-path="url(#wb4)"><rect x="1059.5" y="938.5" width="1.9" height="1.9" fill="#222"/><rect x="1070.8" y="936.2" width="1.9" height="1.9" fill="#222"/><rect x="1087.8" y="938.0" width="1.9" height="1.9" fill="#222"/><rect x="1098.1" y="936.3" width="1.9" height="1.9" fill="#222"/><rect x="1066.2" y="950.7" width="1.9" height="1.9" fill="#222"/><rect x="1074.8" y="949.7" width="1.9" height="1.9" fill="#222"/><rect x="1084.3" y="950.1" width="1.9" height="1.9" fill="#222"/><rect x="1101.1" y="947.2" width="1.9" height="1.9" fill="#222"/><rect x="1060.0" y="959.9" width="1.9" height="1.9" fill="#222"/><rect x="1071.9" y="959.2" width="1.9" height="1.9" fill="#222"/><rect x="1085.0" y="956.5" width="1.9" height="1.9" fill="#222"/><rect x="1097.7" y="962.1" width="1.9" height="1.9" fill="#222"/></g>
<line x1="1069.1" y1="932.5" x2="1069.1" y2="952.8" stroke="#3a3a2a" stroke-width="1"/>
<line x1="1077.4" y1="932.5" x2="1077.4" y2="967" stroke="#3a3a2a" stroke-width="1"/>
<line x1="1085.7" y1="932.5" x2="1085.7" y2="967" stroke="#3a3a2a" stroke-width="1"/>
<line x1="1094" y1="932.5" x2="1094" y2="952.8" stroke="#3a3a2a" stroke-width="1"/>
<line x1="1135.5" y1="928.3" x2="1135.5" y2="950" stroke="#1a1a1a" stroke-width="1.2"/>
<polygon points="1135.5,969.8 1132.0,946.7 1139.0,946.7" fill="#1a1a1a"/>
<path d="M1080.2,1008.1 C1110,1008 1132,1035 1131.8,1060 L1131,1068" fill="none" stroke="#1a1a1a" stroke-width="1.1"/>
<polygon points="1113.4,1016.8 1093.4,1012.1 1096.6,1004.9" fill="#1a1a1a"/>
<polygon points="1131.8,1051.8 1122.4,1033.5 1130.0,1031.3" fill="#1a1a1a"/>
<polygon points="1121.7,1085.9 1126.8,1066.2 1134.0,1069.6" fill="#1a1a1a"/>
<clipPath id="wb5"><path d="M1300.2,936.4 H1507.7 V975.1 H1493.6 L1469.5,1002.4 L1444.4,975.1 H1425.9 A23.7,18.5 0 0 1 1378.5,975.1 H1363.5 A23.55,18.5 0 0 1 1316.4,975.1 H1300.2 Z"/></clipPath>
<path d="M1300.2,936.4 H1507.7 V975.1 H1493.6 L1469.5,1002.4 L1444.4,975.1 H1425.9 A23.7,18.5 0 0 1 1378.5,975.1 H1363.5 A23.55,18.5 0 0 1 1316.4,975.1 H1300.2 Z" fill="#f8e61c" stroke="#4a4a3a" stroke-width="1.1"/>
<g clip-path="url(#wb5)"><rect x="1305.7" y="947.2" width="1.9" height="1.9" fill="#222"/><rect x="1321.6" y="946.0" width="1.9" height="1.9" fill="#222"/><rect x="1336.3" y="946.8" width="1.9" height="1.9" fill="#222"/><rect x="1354.5" y="940.4" width="1.9" height="1.9" fill="#222"/><rect x="1372.3" y="947.2" width="1.9" height="1.9" fill="#222"/><rect x="1381.2" y="944.5" width="1.9" height="1.9" fill="#222"/><rect x="1399.0" y="946.3" width="1.9" height="1.9" fill="#222"/><rect x="1414.8" y="948.3" width="1.9" height="1.9" fill="#222"/><rect x="1430.3" y="942.0" width="1.9" height="1.9" fill="#222"/><rect x="1435.5" y="942.3" width="1.9" height="1.9" fill="#222"/><rect x="1452.1" y="946.5" width="1.9" height="1.9" fill="#222"/><rect x="1472.3" y="948.3" width="1.9" height="1.9" fill="#222"/><rect x="1487.8" y="946.6" width="1.9" height="1.9" fill="#222"/><rect x="1503.7" y="946.3" width="1.9" height="1.9" fill="#222"/><rect x="1308.1" y="959.2" width="1.9" height="1.9" fill="#222"/><rect x="1327.1" y="955.0" width="1.9" height="1.9" fill="#222"/><rect x="1335.8" y="953.9" width="1.9" height="1.9" fill="#222"/><rect x="1348.6" y="958.6" width="1.9" height="1.9" fill="#222"/><rect x="1372.6" y="959.2" width="1.9" height="1.9" fill="#222"/><rect x="1383.0" y="960.1" width="1.9" height="1.9" fill="#222"/><rect x="1395.7" y="955.5" width="1.9" height="1.9" fill="#222"/><rect x="1406.3" y="953.7" width="1.9" height="1.9" fill="#222"/><rect x="1427.7" y="955.9" width="1.9" height="1.9" fill="#222"/><rect x="1445.2" y="952.3" width="1.9" height="1.9" fill="#222"/><rect x="1458.8" y="959.3" width="1.9" height="1.9" fill="#222"/><rect x="1470.8" y="957.6" width="1.9" height="1.9" fill="#222"/><rect x="1485.6" y="952.9" width="1.9" height="1.9" fill="#222"/><rect x="1497.6" y="960.6" width="1.9" height="1.9" fill="#222"/><rect x="1309.3" y="965.6" width="1.9" height="1.9" fill="#222"/><rect x="1323.3" y="965.4" width="1.9" height="1.9" fill="#222"/><rect x="1340.2" y="967.6" width="1.9" height="1.9" fill="#222"/><rect x="1357.9" y="972.7" width="1.9" height="1.9" fill="#222"/><rect x="1368.1" y="965.9" width="1.9" height="1.9" fill="#222"/><rect x="1382.1" y="971.4" width="1.9" height="1.9" fill="#222"/><rect x="1392.8" y="966.9" width="1.9" height="1.9" fill="#222"/><rect x="1410.1" y="971.7" width="1.9" height="1.9" fill="#222"/><rect x="1422.6" y="967.1" width="1.9" height="1.9" fill="#222"/><rect x="1443.9" y="967.1" width="1.9" height="1.9" fill="#222"/><rect x="1457.3" y="965.3" width="1.9" height="1.9" fill="#222"/><rect x="1469.4" y="965.7" width="1.9" height="1.9" fill="#222"/><rect x="1484.6" y="966.2" width="1.9" height="1.9" fill="#222"/><rect x="1494.8" y="972.6" width="1.9" height="1.9" fill="#222"/><rect x="1311.6" y="981.5" width="1.9" height="1.9" fill="#222"/><rect x="1319.3" y="981.2" width="1.9" height="1.9" fill="#222"/><rect x="1333.3" y="984.2" width="1.9" height="1.9" fill="#222"/><rect x="1353.0" y="978.2" width="1.9" height="1.9" fill="#222"/><rect x="1367.0" y="984.4" width="1.9" height="1.9" fill="#222"/><rect x="1386.5" y="981.4" width="1.9" height="1.9" fill="#222"/><rect x="1398.2" y="980.3" width="1.9" height="1.9" fill="#222"/><rect x="1413.7" y="980.9" width="1.9" height="1.9" fill="#222"/><rect x="1430.0" y="982.5" width="1.9" height="1.9" fill="#222"/><rect x="1436.7" y="980.4" width="1.9" height="1.9" fill="#222"/><rect x="1458.7" y="978.3" width="1.9" height="1.9" fill="#222"/><rect x="1470.5" y="982.8" width="1.9" height="1.9" fill="#222"/><rect x="1480.9" y="980.5" width="1.9" height="1.9" fill="#222"/><rect x="1495.4" y="977.4" width="1.9" height="1.9" fill="#222"/><rect x="1308.9" y="989.6" width="1.9" height="1.9" fill="#222"/><rect x="1320.4" y="993.9" width="1.9" height="1.9" fill="#222"/><rect x="1338.7" y="992.2" width="1.9" height="1.9" fill="#222"/><rect x="1350.8" y="993.0" width="1.9" height="1.9" fill="#222"/><rect x="1371.9" y="998.0" width="1.9" height="1.9" fill="#222"/><rect x="1378.1" y="995.5" width="1.9" height="1.9" fill="#222"/><rect x="1401.0" y="996.9" width="1.9" height="1.9" fill="#222"/><rect x="1413.7" y="996.1" width="1.9" height="1.9" fill="#222"/><rect x="1424.1" y="992.1" width="1.9" height="1.9" fill="#222"/><rect x="1436.4" y="992.9" width="1.9" height="1.9" fill="#222"/><rect x="1460.0" y="997.1" width="1.9" height="1.9" fill="#222"/><rect x="1464.8" y="991.6" width="1.9" height="1.9" fill="#222"/><rect x="1480.0" y="994.1" width="1.9" height="1.9" fill="#222"/><rect x="1495.5" y="991.5" width="1.9" height="1.9" fill="#222"/></g>
<line x1="1316.4" y1="936.4" x2="1316.4" y2="975.1" stroke="#3a3a2a" stroke-width="1"/>
<line x1="1363.5" y1="936.4" x2="1363.5" y2="975.1" stroke="#3a3a2a" stroke-width="1"/>
<line x1="1378.5" y1="936.4" x2="1378.5" y2="975.1" stroke="#3a3a2a" stroke-width="1"/>
<line x1="1425.9" y1="936.4" x2="1425.9" y2="975.1" stroke="#3a3a2a" stroke-width="1"/>
<line x1="1444.4" y1="936.4" x2="1444.4" y2="975.1" stroke="#3a3a2a" stroke-width="1"/>
<line x1="1469.5" y1="936.4" x2="1469.5" y2="1002.4" stroke="#3a3a2a" stroke-width="1"/>
<line x1="1493.6" y1="936.4" x2="1493.6" y2="975.1" stroke="#3a3a2a" stroke-width="1"/>
<path d="M1477.3,930.3 V948.7 H1372 V966" fill="none" stroke="#1a1a1a" stroke-width="1.1"/>
<polygon points="1477.3,948.7 1474.8,935.5 1479.8,935.5" fill="#1a1a1a"/>
<polygon points="1425.9,948.7 1437.0,946.0 1437.0,951.5" fill="#1a1a1a"/>
<polygon points="1373.2,948.7 1387.3,945.7 1387.3,951.7" fill="#1a1a1a"/>
<polygon points="1371.6,967.2 1368.8,952.3 1374.3,952.3" fill="#1a1a1a"/>
<line x1="1292.3" y1="1067.8" x2="1354.7" y2="1067.8" stroke="#777" stroke-width="1.5"/>
<line x1="1364.4" y1="1067.8" x2="1378.5" y2="1067.8" stroke="#777" stroke-width="1.5"/>
<line x1="1384.6" y1="1067.8" x2="1446.2" y2="1067.8" stroke="#777" stroke-width="1.5"/>
<line x1="1371.1" y1="996.2" x2="1371.1" y2="1058.6" stroke="#777" stroke-width="1.5"/>
<line x1="1371.1" y1="1063.9" x2="1371.1" y2="1071.8" stroke="#777" stroke-width="1.5"/>
<line x1="1371.1" y1="1076.2" x2="1371.1" y2="1129.8" stroke="#777" stroke-width="1.5"/>
<path d="M1308.1,1020.8 L1323.1,1005 A21.6,21.6 0 0 0 1356.5,1005 L1371.1,1020.8 L1385.5,1005 A21.6,21.6 0 0 0 1418.9,1005 L1434.7,1020.8 A19.2,19.2 0 0 0 1434.7,1054.2 L1418.6,1067.8 L1434.7,1081.5 A19.2,19.2 0 0 0 1434.7,1115.8 L1418.9,1130.7 A21.6,21.6 0 0 0 1385.5,1130.7 L1371.1,1115.8 L1356.5,1130.7 A21.6,21.6 0 0 0 1323.1,1130.7 L1308.1,1115.8 A19.2,19.2 0 0 0 1308.1,1081.5 L1323.6,1067.8 L1308.1,1054.2 A19.2,19.2 0 0 0 1308.1,1020.8 Z" fill="none" stroke="#c91313" stroke-width="4.4" stroke-linejoin="miter"/>
<path d="M1330.1,1054.2 A43,43 0 0 1 1345,1034" fill="none" stroke="#1a1a1a" stroke-width="1.1"/>
<polygon points="1362.6,1025.2 1340.7,1031.4 1346.8,1037.5" fill="#1a1a1a"/>
<path d="M1384.6,1026.1 A43,43 0 0 1 1405,1040" fill="none" stroke="#1a1a1a" stroke-width="1.1"/>
<polygon points="1414.5,1060.4 1400.4,1041 1408.4,1037.5" fill="#1a1a1a"/>
<path d="M1412.7,1081.1 A43,43 0 0 1 1398,1101" fill="none" stroke="#1a1a1a" stroke-width="1.1"/>
<polygon points="1379.3,1111.4 1396,1098.2 1401.3,1105.2" fill="#1a1a1a"/>
<path d="M1357.4,1109.6 A43,43 0 0 1 1336,1096" fill="none" stroke="#1a1a1a" stroke-width="1.1"/>
<polygon points="1327.8,1076.2 1332.7,1098.2 1341.5,1094.7" fill="#1a1a1a"/>
<line x1="1622.9" y1="1044.2" x2="1665.3" y2="1044.2" stroke="#555" stroke-width="1.3"/>
<line x1="1673.6" y1="1044.2" x2="1682.8" y2="1044.2" stroke="#555" stroke-width="1.3"/>
<line x1="1691" y1="1044.2" x2="1742.6" y2="1044.2" stroke="#555" stroke-width="1.3"/>
<line x1="1749" y1="1044.2" x2="1757.4" y2="1044.2" stroke="#555" stroke-width="1.3"/>
<line x1="1766.6" y1="1044.2" x2="1808" y2="1044.2" stroke="#555" stroke-width="1.3"/>
<line x1="1717" y1="956.4" x2="1717" y2="985" stroke="#555" stroke-width="1.3"/>
<line x1="1717" y1="993.3" x2="1717" y2="1003.4" stroke="#555" stroke-width="1.3"/>
<line x1="1717" y1="1010.8" x2="1717" y2="1067.9" stroke="#555" stroke-width="1.3"/>
<line x1="1717" y1="1077.1" x2="1717" y2="1086.3" stroke="#555" stroke-width="1.3"/>
<line x1="1717" y1="1094.6" x2="1717" y2="1129.6" stroke="#555" stroke-width="1.3"/>
<path d="M1782.1,1044.2 L1782.5,1045.3 L1783.0,1046.5 L1783.5,1047.7 L1784.0,1048.9 L1784.6,1050.1 L1785.1,1051.4 L1785.7,1052.6 L1786.3,1053.9 L1786.9,1055.3 L1787.5,1056.6 L1788.1,1058.0 L1788.6,1059.4 L1789.1,1060.9 L1789.6,1062.3 L1790.1,1063.8 L1790.5,1065.3 L1790.8,1066.8 L1791.1,1068.3 L1791.3,1069.8 L1791.5,1071.3 L1791.5,1072.8 L1791.5,1074.3 L1791.5,1075.8 L1791.3,1077.3 L1791.1,1078.7 L1790.7,1080.2 L1790.3,1081.6 L1789.8,1082.9 L1789.2,1084.2 L1788.5,1085.5 L1787.8,1086.7 L1786.9,1087.9 L1786.0,1089.0 L1785.0,1090.1 L1783.9,1091.1 L1782.8,1092.0 L1781.6,1092.9 L1780.4,1093.7 L1779.1,1094.4 L1777.7,1095.1 L1776.3,1095.8 L1774.9,1096.3 L1773.4,1096.8 L1772.0,1097.3 L1770.5,1097.7 L1769.0,1098.0 L1767.5,1098.3 L1766.0,1098.6 L1764.5,1098.8 L1763.0,1099.0 L1761.5,1099.2 L1760.1,1099.3 L1758.7,1099.5 L1757.3,1099.6 L1755.9,1099.7 L1754.6,1099.9 L1753.2,1100.0 L1752.0,1100.2 L1750.7,1100.3 L1749.5,1100.5 L1748.4,1100.8 L1747.2,1101.0 L1746.1,1101.3 L1745.0,1101.7 L1744.0,1102.1 L1742.9,1102.5 L1741.9,1103.0 L1741.0,1103.5 L1740.0,1104.1 L1739.0,1104.7 L1738.1,1105.4 L1737.1,1106.1 L1736.2,1106.8 L1735.2,1107.6 L1734.2,1108.5 L1733.2,1109.4 L1732.3,1110.3 L1731.2,1111.2 L1730.2,1112.2 L1729.2,1113.1 L1728.1,1114.1 L1727.0,1115.1 L1725.8,1116.0 L1724.7,1117.0 L1723.5,1117.9 L1722.2,1118.9 L1721.0,1119.7 L1719.7,1120.6 L1718.3,1121.4 L1717.0,1122.1 L1715.6,1122.8 L1714.2,1123.4 L1712.8,1123.9 L1711.4,1124.4 L1709.9,1124.8 L1708.5,1125.1 L1707.0,1125.3 L1705.6,1125.4 L1704.1,1125.5 L1702.7,1125.4 L1701.2,1125.2 L1699.8,1125.0 L1698.4,1124.6 L1697.1,1124.2 L1695.7,1123.7 L1694.4,1123.1 L1693.1,1122.3 L1691.9,1121.6 L1690.7,1120.7 L1689.5,1119.8 L1688.4,1118.7 L1687.3,1117.7 L1686.3,1116.5 L1685.3,1115.4 L1684.4,1114.1 L1683.5,1112.9 L1682.7,1111.6 L1681.9,1110.3 L1681.1,1108.9 L1680.4,1107.6 L1679.7,1106.2 L1679.1,1104.9 L1678.5,1103.6 L1677.9,1102.2 L1677.3,1100.9 L1676.7,1099.6 L1676.2,1098.4 L1675.7,1097.1 L1675.1,1095.9 L1674.6,1094.8 L1674.0,1093.6 L1673.5,1092.5 L1672.9,1091.5 L1672.3,1090.5 L1671.7,1089.5 L1671.0,1088.6 L1670.3,1087.7 L1669.6,1086.9 L1668.8,1086.1 L1668.0,1085.3 L1667.2,1084.6 L1666.3,1083.8 L1665.3,1083.1 L1664.4,1082.4 L1663.3,1081.8 L1662.3,1081.1 L1661.2,1080.4 L1660.0,1079.8 L1658.9,1079.1 L1657.7,1078.5 L1656.5,1077.8 L1655.2,1077.1 L1653.9,1076.3 L1652.7,1075.6 L1651.4,1074.8 L1650.1,1074.0 L1648.9,1073.1 L1647.6,1072.2 L1646.4,1071.3 L1645.2,1070.3 L1644.0,1069.3 L1642.9,1068.3 L1641.8,1067.2 L1640.8,1066.0 L1639.9,1064.9 L1639.0,1063.7 L1638.2,1062.4 L1637.4,1061.1 L1636.8,1059.8 L1636.2,1058.4 L1635.7,1057.1 L1635.3,1055.7 L1635.1,1054.3 L1634.9,1052.8 L1634.7,1051.4 L1634.7,1050.0 L1634.8,1048.5 L1635.0,1047.1 L1635.3,1045.6 L1635.7,1044.2 L1636.1,1042.8 L1636.6,1041.4 L1637.3,1040.0 L1638.0,1038.7 L1638.7,1037.4 L1639.5,1036.1 L1640.4,1034.8 L1641.3,1033.6 L1642.3,1032.4 L1643.3,1031.2 L1644.3,1030.1 L1645.4,1029.0 L1646.5,1027.9 L1647.6,1026.9 L1648.6,1025.9 L1649.7,1024.9 L1650.8,1024.0 L1651.9,1023.0 L1652.9,1022.1 L1653.9,1021.2 L1654.9,1020.3 L1655.8,1019.5 L1656.7,1018.6 L1657.6,1017.7 L1658.4,1016.9 L1659.1,1016.0 L1659.9,1015.1 L1660.5,1014.2 L1661.2,1013.3 L1661.7,1012.3 L1662.3,1011.3 L1662.8,1010.3 L1663.2,1009.3 L1663.6,1008.2 L1664.0,1007.1 L1664.4,1006.0 L1664.7,1004.8 L1665.0,1003.6 L1665.3,1002.3 L1665.6,1001.0 L1665.8,999.7 L1666.1,998.4 L1666.4,997.0 L1666.7,995.6 L1667.0,994.2 L1667.3,992.7 L1667.6,991.3 L1668.0,989.8 L1668.4,988.3 L1668.9,986.9 L1669.4,985.4 L1670.0,984.0 L1670.6,982.6 L1671.2,981.2 L1671.9,979.8 L1672.7,978.5 L1673.5,977.2 L1674.4,976.0 L1675.3,974.9 L1676.3,973.8 L1677.4,972.7 L1678.5,971.8 L1679.6,970.9 L1680.9,970.1 L1682.1,969.4 L1683.4,968.7 L1684.7,968.2 L1686.1,967.7 L1687.5,967.4 L1688.9,967.1 L1690.4,966.9 L1691.9,966.8 L1693.3,966.8 L1694.8,966.9 L1696.3,967.1 L1697.8,967.3 L1699.3,967.6 L1700.8,968.0 L1702.3,968.4 L1703.7,968.9 L1705.2,969.5 L1706.6,970.1 L1708.0,970.7 L1709.3,971.4 L1710.7,972.1 L1712.0,972.8 L1713.3,973.5 L1714.6,974.3 L1715.8,975.0 L1717.0,975.7 L1718.2,976.4 L1719.3,977.1 L1720.5,977.7 L1721.6,978.4 L1722.7,978.9 L1723.8,979.5 L1724.9,980.0 L1726.0,980.5 L1727.0,980.9 L1728.1,981.2 L1729.2,981.5 L1730.3,981.8 L1731.4,982.0 L1732.5,982.2 L1733.6,982.3 L1734.7,982.3 L1735.9,982.3 L1737.1,982.3 L1738.3,982.3 L1739.6,982.2 L1740.9,982.1 L1742.2,981.9 L1743.5,981.8 L1744.9,981.6 L1746.3,981.5 L1747.7,981.3 L1749.1,981.1 L1750.6,981.0 L1752.1,980.9 L1753.6,980.8 L1755.1,980.8 L1756.7,980.7 L1758.2,980.8 L1759.7,980.8 L1761.3,981.0 L1762.8,981.2 L1764.3,981.4 L1765.8,981.8 L1767.2,982.1 L1768.7,982.6 L1770.1,983.1 L1771.4,983.8 L1772.7,984.4 L1774.0,985.2 L1775.2,986.0 L1776.3,986.9 L1777.4,987.9 L1778.4,988.9 L1779.3,990.0 L1780.2,991.2 L1780.9,992.4 L1781.6,993.7 L1782.3,995.0 L1782.8,996.4 L1783.3,997.8 L1783.7,999.2 L1784.0,1000.7 L1784.2,1002.2 L1784.4,1003.7 L1784.5,1005.2 L1784.5,1006.8 L1784.5,1008.3 L1784.4,1009.9 L1784.3,1011.4 L1784.1,1012.9 L1783.9,1014.4 L1783.6,1015.9 L1783.4,1017.4 L1783.1,1018.8 L1782.8,1020.3 L1782.5,1021.7 L1782.1,1023.0 L1781.8,1024.4 L1781.6,1025.7 L1781.3,1027.0 L1781.0,1028.2 L1780.8,1029.5 L1780.6,1030.7 L1780.5,1031.9 L1780.4,1033.0 L1780.3,1034.2 L1780.3,1035.3 L1780.4,1036.4 L1780.5,1037.5 L1780.6,1038.6 L1780.8,1039.7 L1781.0,1040.8 L1781.3,1042.0 L1781.7,1043.1Z" fill="none" stroke="#c91313" stroke-width="4.3"/>
<circle cx="1717" cy="1044.2" r="22.3" fill="none" stroke="#000" stroke-width="3.1"/>
<clipPath id="w6"><path d="M1697.5,923.3 H1740.8 V951.8 A21.65,18.50 0 0 1 1697.5,951.8 Z"/></clipPath>
<path d="M1697.5,923.3 H1740.8 V951.8 A21.65,18.50 0 0 1 1697.5,951.8 Z" fill="#f8e61c" stroke="#4a4a3a" stroke-width="1.1"/>
<g clip-path="url(#w6)"><rect x="1701.4" y="931.0" width="1.9" height="1.9" fill="#222"/><rect x="1712.2" y="931.0" width="1.9" height="1.9" fill="#222"/><rect x="1721.8" y="934.0" width="1.9" height="1.9" fill="#222"/><rect x="1733.4" y="933.2" width="1.9" height="1.9" fill="#222"/><rect x="1707.1" y="941.6" width="1.9" height="1.9" fill="#222"/><rect x="1713.7" y="939.0" width="1.9" height="1.9" fill="#222"/><rect x="1725.3" y="938.6" width="1.9" height="1.9" fill="#222"/><rect x="1732.1" y="939.3" width="1.9" height="1.9" fill="#222"/><rect x="1705.8" y="951.6" width="1.9" height="1.9" fill="#222"/><rect x="1713.9" y="952.1" width="1.9" height="1.9" fill="#222"/><rect x="1725.7" y="955.4" width="1.9" height="1.9" fill="#222"/><rect x="1732.1" y="954.7" width="1.9" height="1.9" fill="#222"/><rect x="1705.7" y="963.6" width="1.9" height="1.9" fill="#222"/><rect x="1717.1" y="960.1" width="1.9" height="1.9" fill="#222"/><rect x="1722.2" y="962.1" width="1.9" height="1.9" fill="#222"/><rect x="1731.7" y="960.7" width="1.9" height="1.9" fill="#222"/></g>
<line x1="1717" y1="956.4" x2="1717" y2="970" stroke="#555" stroke-width="1.2"/>
<line x1="1756.4" y1="930.7" x2="1756.4" y2="958" stroke="#1a1a1a" stroke-width="1.2"/>
<polygon points="1756.4,969.3 1753.7,955.4 1759.2,955.4" fill="#1a1a1a"/>
<line x1="1768" y1="938" x2="1768" y2="963.8" stroke="#1a1a1a" stroke-width="1.2"/>
<polygon points="1768.0,925.1 1770.8,939.5 1765.2,939.5" fill="#1a1a1a"/>
<line x1="1741" y1="998.2" x2="1754" y2="1008.5" stroke="#1a1a1a" stroke-width="1.1"/>
<polygon points="1765,1025.9 1751.4,1010.4 1757.9,1006.7" fill="#1a1a1a"/>
</svg></body></html>
